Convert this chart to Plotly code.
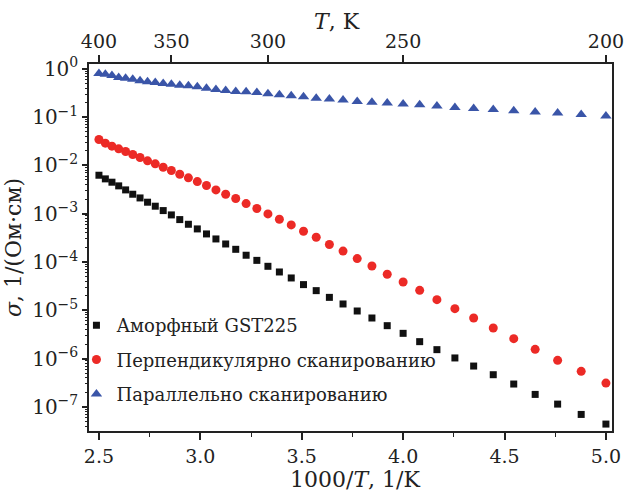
import plotly.graph_objects as go

# Temperatures (K), 5 K steps from 400 to 200
T = [400 - 5 * i for i in range(41)]
x_inv = [1000.0 / t for t in T]

amorphous = [6.26e-3, 5.26e-3, 4.49e-3, 3.77e-3, 3.11e-3, 2.53e-3, 2.12e-3, 1.73e-3,
             1.43e-3, 1.16e-3, 9.44e-4, 7.55e-4, 6.04e-4, 4.84e-4, 3.81e-4, 3.00e-4,
             2.36e-4, 1.83e-4, 1.38e-4, 1.08e-4, 8.14e-5, 6.21e-5, 4.67e-5, 3.40e-5,
             2.55e-5, 1.85e-5, 1.35e-5, 9.66e-6, 6.92e-6, 4.80e-6, 3.33e-6, 2.24e-6,
             1.53e-6, 1.03e-6, 7.0e-7, 4.63e-7, 2.97e-7, 1.81e-7, 1.14e-7, 6.97e-8, 4.40e-8]

perpendicular = [3.44e-2, 2.89e-2, 2.50e-2, 2.20e-2, 1.94e-2, 1.68e-2, 1.456e-2, 1.242e-2,
                 1.076e-2, 9.18e-3, 7.83e-3, 6.57e-3, 5.52e-3, 4.63e-3, 3.83e-3, 3.11e-3,
                 2.53e-3, 2.06e-3, 1.62e-3, 1.28e-3, 9.89e-4, 7.67e-4, 5.85e-4, 4.32e-4,
                 3.25e-4, 2.30e-4, 1.68e-4, 1.175e-4, 8.27e-5, 5.56e-5, 3.86e-5, 2.59e-5,
                 1.66e-5, 1.08e-5, 6.92e-6, 4.29e-6, 2.58e-6, 1.55e-6, 9.18e-7, 5.43e-7, 3.11e-7]

parallel = [0.80, 0.776, 0.729, 0.663, 0.641, 0.612, 0.565, 0.538, 0.521, 0.497, 0.482,
            0.459, 0.445, 0.424, 0.398, 0.374, 0.356, 0.340, 0.334, 0.324, 0.304, 0.290,
            0.276, 0.263, 0.247, 0.236, 0.225, 0.211, 0.204, 0.195, 0.188, 0.180, 0.169,
            0.158, 0.151, 0.144, 0.135, 0.127, 0.121, 0.113, 0.105]

names = ["Аморфный GST225", "Перпендикулярно сканированию", "Параллельно сканированию"]

bottom_ticks = [2.5, 3.0, 3.5, 4.0, 4.5, 5.0]
top_T_ticks = [400, 350, 300, 250, 200]
y_major = [10.0 ** (-k) for k in range(0, 8)]
y_labels = ["10<sup>0</sup>"] + ["10<sup>\u2212%d</sup>" % k for k in range(1, 8)]
y_minor = [m * 10.0 ** (-k) for k in range(1, 9) for m in range(2, 10)]

x_title = "1000/<i>T</i>, 1/K"
x2_title = "<i>T</i>, K"
y_title = "<i>σ</i>, 1/(Ом·см)"

FONT = "DejaVu Serif"
x_range = [2.451, 5.03]
y_range = [-7.5, 0.1]

fig = go.Figure()
fig.add_trace(go.Scatter(x=x_inv, y=amorphous, mode="markers", name=names[0],
                         legendgroup="a",
                         marker=dict(symbol="square", size=7, color="#111111")))
fig.add_trace(go.Scatter(x=x_inv, y=perpendicular, mode="markers", name=names[1],
                         legendgroup="b",
                         marker=dict(symbol="circle", size=9, color="#ec2a26")))
fig.add_trace(go.Scatter(x=x_inv, y=parallel, mode="markers", name=names[2],
                         legendgroup="c",
                         marker=dict(symbol="triangle-up", size=10, color="#3a55a8")))
# invisible trace to anchor the top temperature axis
fig.add_trace(go.Scatter(x=x_inv, y=parallel, xaxis="x2", yaxis="y", mode="markers",
                         marker=dict(opacity=0), showlegend=False, hoverinfo="skip"))

fig.update_layout(
    width=625, height=500,
    margin=dict(l=89, r=13, t=64, b=69, autoexpand=False),
    paper_bgcolor="white", plot_bgcolor="white",
    font=dict(family=FONT, size=19, color="#222222"),
    showlegend=True,
    legend=dict(x=-0.024, y=0.338, xanchor="left", yanchor="top",
                bgcolor="rgba(0,0,0,0)", tracegroupgap=8,
                font=dict(family=FONT, size=18, color="#222222"),
                itemwidth=30),
    xaxis=dict(range=x_range, tickvals=bottom_ticks,
               ticktext=["%.1f" % v for v in bottom_ticks],
               ticks="outside", ticklen=7, tickwidth=1.5, tickcolor="#222",
               showline=True, linewidth=1.5, linecolor="#222", mirror=False,
               showgrid=False, zeroline=False, automargin=False,
               ticklabeloverflow="allow",
               tickfont=dict(size=19),
               minor=dict(dtick=0.25, tick0=2.5, ticks="outside", ticklen=4,
                          tickwidth=1.2, tickcolor="#222", showgrid=False)),
    xaxis2=dict(overlaying="x", side="top", anchor="y", range=x_range,
                tickvals=[1000.0 / t for t in top_T_ticks],
                ticktext=[str(t) for t in top_T_ticks],
                ticks="outside", ticklen=7, tickwidth=1.5, tickcolor="#222",
                showline=True, linewidth=1.5, linecolor="#222",
                showgrid=False, zeroline=False, automargin=False,
                ticklabeloverflow="allow",
                tickfont=dict(size=19)),
    yaxis=dict(type="log", range=y_range, tickvals=y_major, ticktext=y_labels,
               ticks="outside", ticklen=5, tickwidth=1.5, tickcolor="#222",
               showline=True, linewidth=1.5, linecolor="#222", mirror=True,
               showgrid=False, zeroline=False, automargin=False,
               tickfont=dict(size=20),
               title=dict(text=y_title, font=dict(size=22), standoff=4)),
    yaxis3=dict(type="log", range=y_range, overlaying="y", anchor="x", side="left",
                tickvals=y_minor, showticklabels=False, automargin=False,
                ticks="outside", ticklen=3, tickwidth=1, tickcolor="#222",
                showline=False, showgrid=False, zeroline=False),
    annotations=[
        dict(text=x_title, xref="paper", yref="paper", x=0.509, y=-0.131,
             xanchor="center", yanchor="middle", showarrow=False,
             font=dict(size=22, family=FONT, color="#222222")),
        dict(text=x2_title, xref="paper", yref="paper", x=0.474, y=1.115,
             xanchor="center", yanchor="middle", showarrow=False,
             font=dict(size=22, family=FONT, color="#222222")),
    ],
)
# dummy trace for minor y ticks
fig.add_trace(go.Scatter(x=x_inv, y=parallel, xaxis="x", yaxis="y3", mode="markers",
                         marker=dict(opacity=0), showlegend=False, hoverinfo="skip"))

fig.write_html("out.html",
               config={"displayModeBar": False},
               post_script="document.body.style.margin='0px';"
                           "document.body.style.overflow='hidden';")
